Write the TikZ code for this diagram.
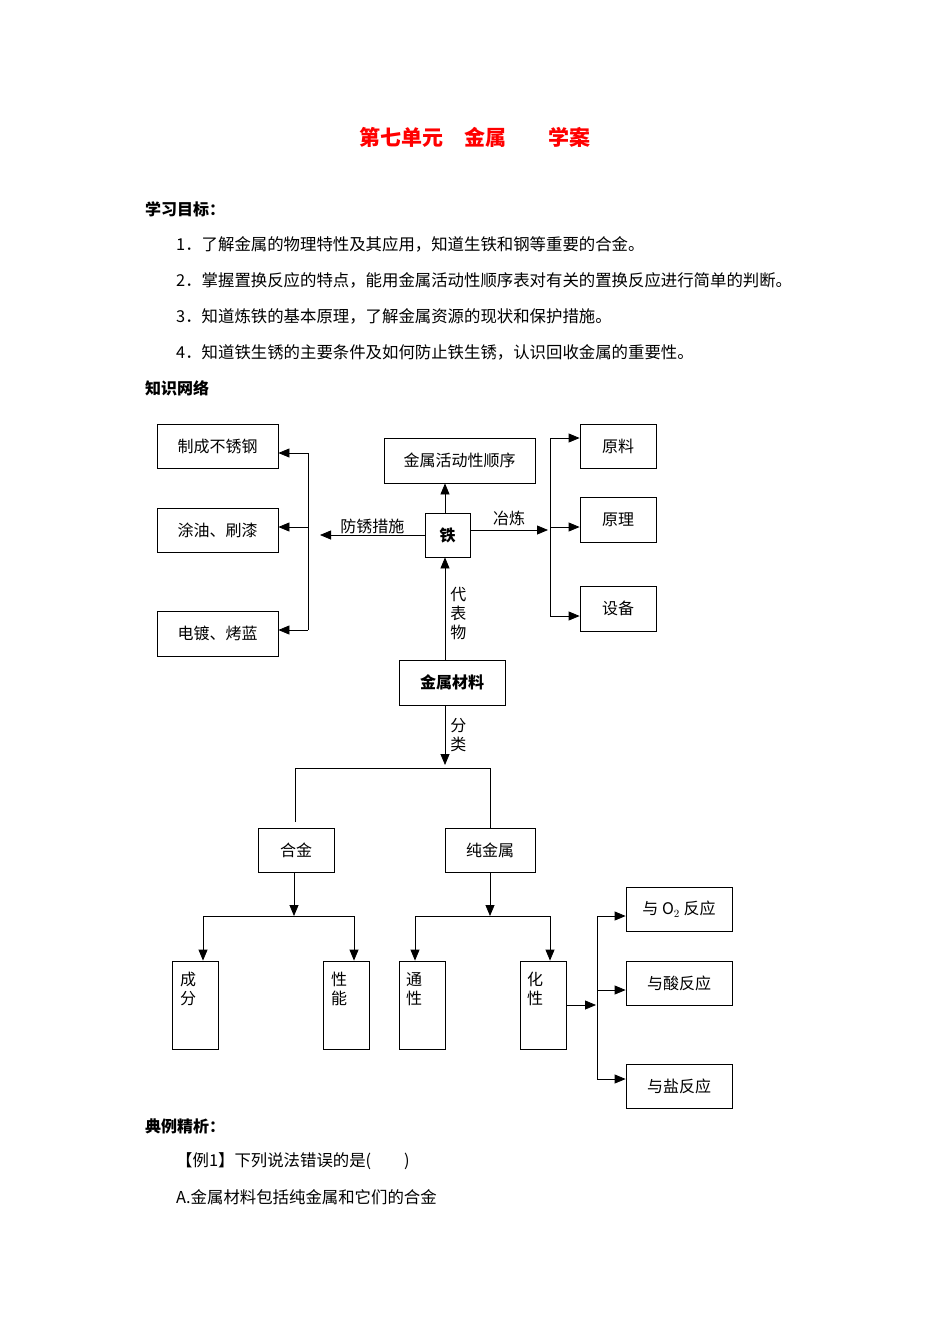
\documentclass[tikz,border=0pt]{standalone}
\usepackage{fontspec}
\setmainfont{Noto Sans CJK SC}
\usepackage{tikz}
\usetikzlibrary{arrows.meta}

\tikzset{
  box/.style={draw, thick, inner sep=0pt, font=\fontsize{16}{19}\selectfont},
  tall/.style={box, minimum width=46pt, minimum height=88pt},
  arr/.style={thick, -{Triangle[length=11pt,width=9pt]}},
  ln/.style={thick},
  txt/.style={font=\fontsize{16}{19}\selectfont, inner sep=0pt},
  line/.style={font=\fontsize{16.4}{19}\selectfont, inner sep=0pt, anchor=west},
  head/.style={font=\fontsize{16}{19}\selectfont\bfseries, inner sep=0pt, anchor=west}
}

\begin{document}
\begin{tikzpicture}[x=1pt,y=-1pt]
    % Page frame
    \useasboundingbox[fill=white] (0,0) rectangle (950,1344);

    % Title and goals
    \node[red, font=\fontsize{21}{24}\selectfont\bfseries] (title) at (475,137) {第七单元\quad 金属\qquad 学案};
    \node[head] (goal) at (145,209) {学习目标：};
    \node[line] (g1) at (176,244) {1．了解金属的物理特性及其应用，知道生铁和钢等重要的合金。};
    \node[line] (g2) at (176,280) {2．掌握置换反应的特点，能用金属活动性顺序表对有关的置换反应进行简单的判断。};
    \node[line] (g3) at (176,316) {3．知道炼铁的基本原理，了解金属资源的现状和保护措施。};
    \node[line] (g4) at (176,352) {4．知道铁生锈的主要条件及如何防止铁生锈，认识回收金属的重要性。};
    \node[head] (net) at (145,388) {知识网络};

    % Iron in the middle
    \node[box, minimum width=45pt, minimum height=44pt, font=\fontsize{16}{19}\selectfont\bfseries] (tie) at (447.5,535) {铁};
    \node[box, minimum width=151pt, minimum height=45pt] (order) at (459.5,460.5) {金属活动性顺序};
    \draw[arr] (tie.north -| 445,0) -- (order.south -| 445,0);

    % Rust prevention (left)
    \node[box, minimum width=121pt, minimum height=44pt] (steel) at (217.5,446) {制成不锈钢};
    \node[box, minimum width=121pt, minimum height=44pt] (oil) at (217.5,530) {涂油、刷漆};
    \node[box, minimum width=121pt, minimum height=45pt] (plate) at (217.5,633.5) {电镀、烤蓝};
    \coordinate (lfree) at (320,535);
    \draw[arr] (tie.west |- 0,535) -- (lfree) node[midway, above=1pt, txt] {防锈措施};
    \draw[ln] (308,453) -- (308,630);
    \draw[arr] (308,453) -- (steel.east |- 0,453);
    \draw[arr] (308,527) -- (oil.east |- 0,527);
    \draw[arr] (308,630) -- (plate.east |- 0,630);

    % Smelting (right)
    \node[box, minimum width=76pt, minimum height=44pt] (raw) at (618,446) {原料};
    \node[box, minimum width=76pt, minimum height=45pt] (prin) at (618,519.5) {原理};
    \node[box, minimum width=76pt, minimum height=45pt] (equip) at (618,608.5) {设备};
    \coordinate (rfree) at (548,530);
    \draw[arr] (tie.east |- 0,530) -- (rfree) node[midway, above=4pt, txt] {冶炼};
    \draw[ln] (550,438) -- (550,616);
    \draw[arr] (550,438) -- (raw.west |- 0,438);
    \draw[arr] (550,527) -- (prin.west |- 0,527);
    \draw[arr] (550,616) -- (equip.west |- 0,616);

    % Metal materials
    \node[box, minimum width=106pt, minimum height=45pt, font=\fontsize{16}{19}\selectfont\bfseries] (mat) at (452,682.5) {金属材料};
    \draw[arr] (mat.north -| 445,0) -- (tie.south -| 445,0)
      node[pos=0.45, right=5pt, txt, align=center] {代\\表\\物};
    \coordinate (split) at (445,765);
    \draw[arr] (mat.south -| 445,0) -- (split)
      node[midway, right=5pt, txt, align=center] {分\\类};

    % Alloys and pure metals
    \node[box, minimum width=76pt, minimum height=44pt] (alloy) at (296,850) {合金};
    \node[box, minimum width=90pt, minimum height=44pt] (pure) at (490,850) {纯金属};
    \draw[ln] (295,822) -- (295,768) -- (490,768) -- (pure.north);

    \node[tall] (comp) at (195.5,1005) {};
    \node[tall] (prop) at (346.5,1005) {};
    \node[tall] (gen) at (422,1005) {};
    \node[tall] (chem) at (543,1005) {};
    \node[txt, align=center, anchor=north west] (tcomp) at (180,972) {成\\分};
    \node[txt, align=center, anchor=north west] (tprop) at (331,972) {性\\能};
    \node[txt, align=center, anchor=north west] (tgen) at (406,972) {通\\性};
    \node[txt, align=center, anchor=north west] (tchem) at (527,972) {化\\性};

    \coordinate (ajoin) at (294,916);
    \coordinate (pjoin) at (490,916);
    \draw[arr] (alloy.south -| ajoin) -- (ajoin);
    \draw[arr] (pure.south) -- (pjoin);
    \draw[ln] (203,916) -- (354,916);
    \draw[ln] (415,916) -- (550,916);
    \draw[arr] (203,916) -- (comp.north -| 203,0);
    \draw[arr] (354,916) -- (prop.north -| 354,0);
    \draw[arr] (415,916) -- (gen.north -| 415,0);
    \draw[arr] (550,916) -- (chem.north -| 550,0);

    % Chemical properties
    \node[box, minimum width=106pt, minimum height=44pt] (oxy) at (679,909) {与 O$_2$ 反应};
    \node[box, minimum width=106pt, minimum height=44pt] (acid) at (679,983) {与酸反应};
    \node[box, minimum width=106pt, minimum height=44pt] (salt) at (679,1086) {与盐反应};
    \coordinate (cjoin) at (596,1005);
    \draw[arr] (chem.east) -- (cjoin);
    \draw[ln] (597,916) -- (597,1079);
    \draw[arr] (597,916) -- (oxy.west |- 0,916);
    \draw[arr] (597,990) -- (acid.west |- 0,990);
    \draw[arr] (597,1079) -- (salt.west |- 0,1079);

    % Examples
    \node[head] (ex) at (145,1126) {典例精析：};
    \node[line] (ex1) at (176,1161) {【例1】下列说法错误的是(\qquad )};
    \node[line] (exa) at (176,1197) {A.金属材料包括纯金属和它们的合金};
\end{tikzpicture}
\end{document}
